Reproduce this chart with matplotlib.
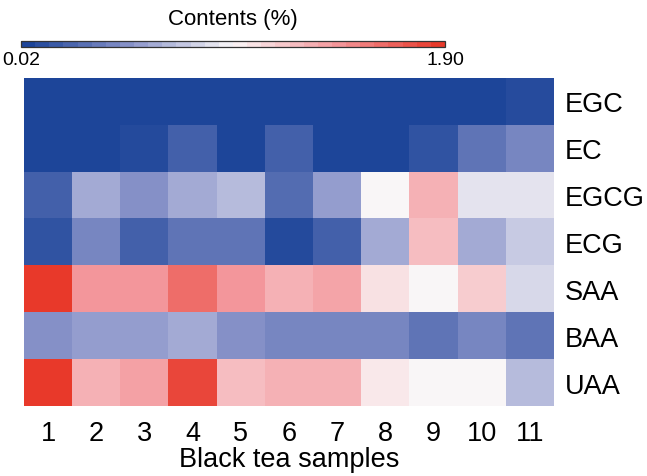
import matplotlib
matplotlib.use("Agg")
import matplotlib.pyplot as plt
import numpy as np
from matplotlib.colors import LinearSegmentedColormap, Normalize
from matplotlib.cm import ScalarMappable

plt.rcParams["font.family"] = ["Liberation Sans", "DejaVu Sans"]

# ---------------------------------------------------------------------------
# Data (contents, %)
# ---------------------------------------------------------------------------
samples = ["1", "2", "3", "4", "5", "6", "7", "8", "9", "10", "11"]
compounds = ["EGC", "EC", "EGCG", "ECG", "SAA", "BAA", "UAA"]

egc  = [0.03, 0.03, 0.03, 0.03, 0.03, 0.03, 0.03, 0.03, 0.03, 0.03, 0.07]
ec   = [0.03, 0.03, 0.06, 0.19, 0.03, 0.19, 0.03, 0.03, 0.11, 0.31, 0.41]
egcg = [0.19, 0.60, 0.47, 0.60, 0.68, 0.26, 0.54, 0.96, 1.30, 0.87, 0.87]
ecg  = [0.11, 0.41, 0.19, 0.31, 0.31, 0.06, 0.19, 0.60, 1.24, 0.60, 0.75]
saa  = [1.90, 1.43, 1.43, 1.64, 1.43, 1.30, 1.37, 1.07, 0.96, 1.17, 0.82]
baa  = [0.47, 0.54, 0.54, 0.60, 0.47, 0.41, 0.41, 0.41, 0.31, 0.41, 0.31]
uaa  = [1.90, 1.30, 1.38, 1.83, 1.24, 1.30, 1.30, 1.03, 0.96, 0.96, 0.68]

vmin, vmax = 0.02, 1.90

grid = np.array([egc, ec, egcg, ecg, saa, baa, uaa])

cmap = LinearSegmentedColormap.from_list(
    "bwr_tea",
    [(0.0, "#1c4499"), (0.25, "#8a94ca"), (0.5, "#faf7f8"),
     (0.75, "#f4989d"), (1.0, "#e8392a")],
)

W, H = 647, 477
fig = plt.figure(figsize=(W / 100, H / 100), dpi=100)

# heatmap
ax = fig.add_axes([24 / W, (H - 407) / H, 530 / W, 328 / H])
ax.imshow(grid, cmap=cmap, vmin=vmin, vmax=vmax, aspect="auto",
          interpolation="nearest")
for s in ax.spines.values():
    s.set_visible(False)
ax.set_xticks(range(len(samples)))
ax.set_xticklabels(samples, fontsize=19.5)
ax.set_yticks(range(len(compounds)))
ax.set_yticklabels(compounds, fontsize=19.5)
ax.yaxis.tick_right()
ax.tick_params(axis="x", length=0, pad=10)
ax.tick_params(axis="y", length=0, pad=8)
ax.set_xlabel("Black tea samples", fontsize=19.5, labelpad=0)

# colorbar on top
cax = fig.add_axes([21 / W, (H - 48) / H, 424 / W, 6 / H])
sm = ScalarMappable(norm=Normalize(vmin, vmax), cmap=cmap.resampled(30))
cb = fig.colorbar(sm, cax=cax, orientation="horizontal")
cb.set_ticks([])
cb.outline.set_linewidth(0.9)
cb.outline.set_edgecolor("#333333")
cax.text(0, -0.6, f"{vmin:.2f}", transform=cax.transAxes, ha="center",
         va="top", fontsize=14)
cax.text(1, -0.6, f"{vmax:.2f}", transform=cax.transAxes, ha="center",
         va="top", fontsize=14)
cax.text(0.5, 3.0, "Contents (%)", transform=cax.transAxes, ha="center",
         va="bottom", fontsize=16)

fig.savefig("out.png", dpi=100)
